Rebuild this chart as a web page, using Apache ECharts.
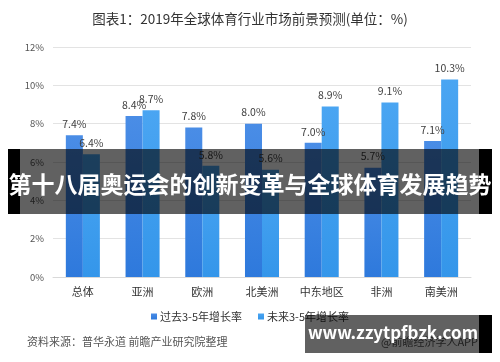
<!DOCTYPE html>
<html><head><meta charset="utf-8">
<script src="https://cdn.jsdelivr.net/npm/echarts@6/dist/echarts.min.js"></script>
<style>html,body{margin:0;padding:0;background:#fff}#c{width:500px;height:362px}</style>
</head><body><div id="c"></div>
<script>
const categories = ['总体','亚洲','欧洲','北美洲','中东地区','非洲','南美洲'];
const pastRates = [7.4, 8.4, 7.8, 8.0, 7.0, 5.7, 7.1];
const futureRates = [6.4, 8.7, 5.8, 5.6, 8.9, 9.1, 10.3];
const yTicks = [0, 2, 4, 6, 8, 10, 12];
const seriesNames = ['过去3-5年增长率','未来3-5年增长率'];
const FONT = '"Noto Sans CJK SC","Noto Sans",sans-serif';

const chart = echarts.init(document.getElementById('c'), null, {renderer:'canvas'});
const labelStyle = {show:true, position:'top', distance:6, color:'#404040', fontSize:10.5, fontFamily:FONT, formatter: p => p.value.toFixed(1) + '%'};
chart.setOption({
  animation:false,
  title:{text:'图表1：2019年全球体育行业市场前景预测(单位：%)', left:'center', top:7,
    textStyle:{fontSize:13.5, fontWeight:'normal', color:'#333', fontFamily:FONT}},
  grid:{left:53, right:29, top:47, bottom:85},
  legend:{data:seriesNames, top:306, left:'center', icon:'rect', itemWidth:6, itemHeight:6, itemGap:16,
    textStyle:{fontSize:11, color:'#333', fontFamily:FONT, padding:[0,0,0,-2]}},
  xAxis:{type:'category', data:categories,
    axisLine:{lineStyle:{color:'#d9d9d9'}}, axisTick:{show:false},
    axisLabel:{color:'#333', fontSize:11, fontFamily:FONT, margin:9}},
  yAxis:{type:'value', min:0, max:12, interval:2,
    axisLabel:{formatter: v => yTicks.includes(v) ? v + '%' : '', color:'#555', fontSize:9.5, fontFamily:FONT, margin:9},
    splitLine:{lineStyle:{color:'#e3e3e3'}}, axisLine:{show:false}, axisTick:{show:false}},
  series:[
    {name:seriesNames[0], type:'bar', data:pastRates, barGap:'0%', barCategoryGap:'43%',
      itemStyle:{color:new echarts.graphic.LinearGradient(0,0,0,1,[{offset:0,color:'#4a8de6'},{offset:1,color:'#2e79dc'}])},
      label:labelStyle},
    {name:seriesNames[1], type:'bar', data:futureRates,
      itemStyle:{color:new echarts.graphic.LinearGradient(0,0,0,1,[{offset:0,color:'#4aa5f2'},{offset:1,color:'#3496ea'}])},
      label:labelStyle}
  ],
  graphic:[
    {type:'text', left:27, top:336, style:{text:'资料来源：普华永道 前瞻产业研究院整理', fill:'#555', font:'11px '+FONT}},
    {type:'text', right:22, top:336, style:{text:'@前瞻经济学人APP', fill:'#555', font:'11px '+FONT}},
    {type:'rect', shape:{x:8, y:149, width:484, height:65}, style:{fill:'rgba(0,0,0,0.62)'}, z:100},
    {type:'rect', shape:{x:8, y:149, width:12, height:65}, style:{fill:'#000'}, z:101},
    {type:'rect', shape:{x:479, y:149, width:13, height:65}, style:{fill:'#000'}, z:101},
    {type:'text', x:250, y:184, style:{text:'第十八届奥运会的创新变革与全球体育发展趋势', fill:'#fff', font:'bold 23px '+FONT, align:'center', verticalAlign:'middle'}, z:102},
    {type:'rect', shape:{x:305, y:315, width:174, height:38}, style:{fill:'rgba(0,0,0,0.62)'}, z:100},
    {type:'rect', shape:{x:479, y:315, width:13, height:38}, style:{fill:'#000'}, z:101},
    {type:'text', x:393, y:333, style:{text:'www.zzytpfbzk.com', fill:'#fff', font:'bold 17px '+FONT, align:'center', verticalAlign:'middle'}, z:102}
  ]
});
</script></body></html>
